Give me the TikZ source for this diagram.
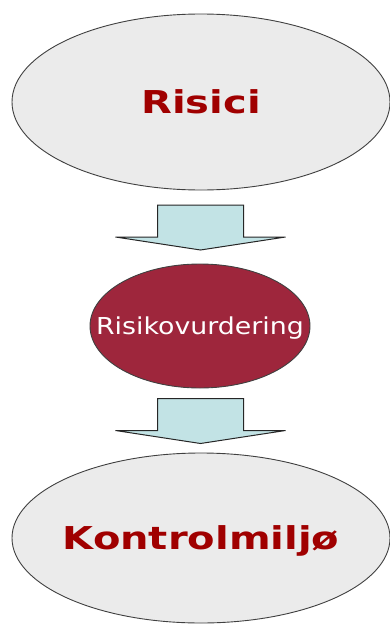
\documentclass[tikz,border=0pt]{standalone}
\usepackage{fontspec}
\newfontfamily\widebold[FakeStretch=1.27]{DejaVu Sans}
\newfontfamily\wideplain[FakeStretch=1.15]{DejaVu Sans}
\usepackage{tikz}
\usetikzlibrary{shapes.geometric, calc}
\definecolor{ovalgray}{HTML}{EBEBEB}
\definecolor{riskred}{HTML}{A00000}
\definecolor{wine}{HTML}{9E263C}
\definecolor{arrowcyan}{HTML}{C2E3E5}
\tikzset{
  blob/.style={ellipse, draw=black!75, line width=0.9pt, inner sep=0pt, text depth=0pt},
  outer/.style={blob, fill=ovalgray, minimum width=378pt, minimum height=176pt, text=riskred,
    font=\widebold\bfseries\fontsize{31.5}{36}\selectfont, text height=23pt},
  inner/.style={blob, fill=wine, minimum width=220pt, minimum height=124pt, text=white,
    font=\wideplain\fontsize{23.3}{28}\selectfont, text height=17pt},
  blockarrow/.style={draw=black!85, fill=arrowcyan, line width=1pt, line join=miter},
}
\begin{document}
\begin{tikzpicture}[x=1pt, y=-1pt]
  \useasboundingbox (0,0) rectangle (390,624);
  \node[outer] (risici) at (201,102) {\makebox[0pt]{Risici}};
  \node[inner] (vurdering) at (200,326) {\makebox[0pt]{Risikovurdering}};
  \node[outer, minimum height=170pt] (miljo) at (201,538) {\makebox[0pt]{Kontrolmiljø}};
  \foreach \a/\b in {risici/vurdering, vurdering/miljo} {
    \coordinate (m) at ($(\a.south)!.5!(\b.north)$);
    \draw[blockarrow] ($(m)+(-43,-22)$) -- ($(m)+(43,-22)$) -- ($(m)+(43,10)$) -- ($(m)+(85,10)$)
      -- ($(m)+(0,23)$) -- ($(m)+(-85,10)$) -- ($(m)+(-43,10)$) -- cycle;
  }
\end{tikzpicture}
\end{document}
